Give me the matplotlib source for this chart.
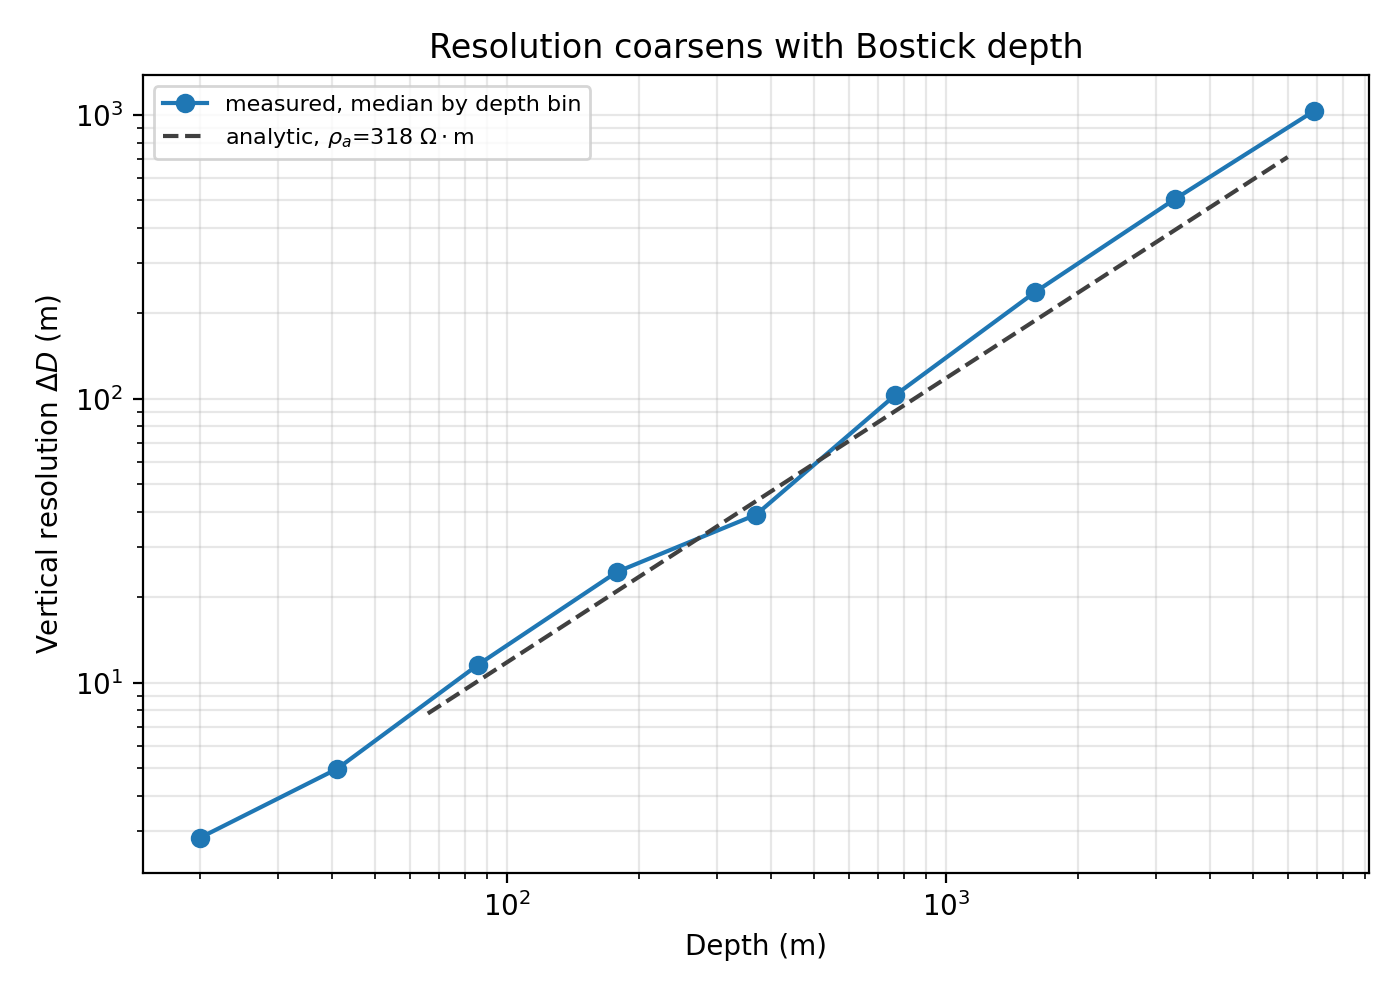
from matplotlib import pyplot as plt

# measured median resolution per depth bin
depth = [20, 41, 86, 178, 369, 765, 1596, 3323, 6889]
resolution = [2.85, 4.98, 11.6, 24.6, 39.1, 103, 238, 506, 1033]

# analytic curve end points
depth_analytic = [66, 6000]
resolution_analytic = [7.8, 711]

fig, ax = plt.subplots(figsize=(7, 5), dpi=200)
ax.loglog(depth, resolution, "o-", color="#1f77b4", lw=1.5, ms=6,
          label="measured, median by depth bin")
ax.loglog(depth_analytic, resolution_analytic, "--", color="#404040", lw=1.5,
          label=r"analytic, $\rho_a$=318 $\Omega\cdot$m")

ax.set_xlim(14.8, 9200)
ax.set_ylim(2.14, 1383)
ax.grid(True, which="both", alpha=0.3)
ax.set_xlabel("Depth (m)")
ax.set_ylabel(r"Vertical resolution $\Delta D$ (m)")
ax.set_title("Resolution coarsens with Bostick depth")
ax.legend(loc="upper left", fontsize=8)

fig.subplots_adjust(left=0.102, right=0.978, bottom=0.127, top=0.925)
fig.savefig("out.png", dpi=200)
